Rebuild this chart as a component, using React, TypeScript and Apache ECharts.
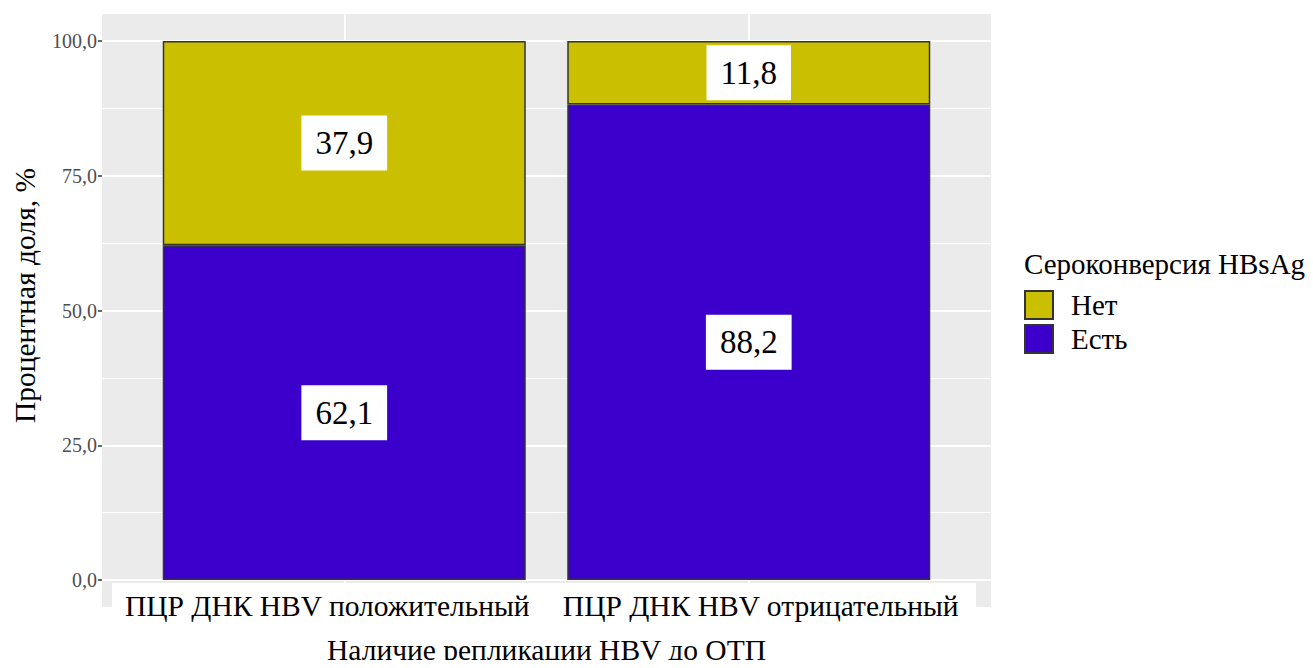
import React, { useEffect, useRef } from "react";
import * as echarts from "echarts";

const categories = ["ПЦР ДНК HBV положительный", "ПЦР ДНК HBV отрицательный"];
const categoryPositions = [1, 2];
const seriesNames = ["Есть", "Нет"];
const valuesYes = [62.1, 88.2];
const valuesNo = [37.9, 11.8];
const yTicks = [0, 25, 50, 75, 100];
const yMinorTicks = [12.5, 37.5, 62.5, 87.5];
const legendTitle = "Сероконверсия HBsAg";
const xTitle = "Наличие репликации HBV до ОТП";
const yTitle = "Процентная доля, %";

const FONT = "'Liberation Serif', 'Times New Roman', serif";
const BIG = 29.5;
const fmt = (v: number) => v.toFixed(1).replace(".", ",");

export default function App() {
  const ref = useRef<HTMLDivElement>(null);
  useEffect(() => {
    if (!ref.current) return;
    const chart = echarts.init(ref.current, null, { renderer: "svg" });
    const labelStyle = {
      show: true,
      position: "inside",
      formatter: (p: any) => fmt(p.value),
      color: "#000",
      fontSize: 33,
      fontFamily: FONT,
      backgroundColor: "#fff",
      padding: [11, 14],
    };
    chart.setOption({
      animation: false,
      textStyle: { fontFamily: FONT },
      grid: [
        // bars
        {
          left: 142,
          right: 362,
          top: 14,
          bottom: 61,
          show: false,
          containLabel: false,
          outerBoundsMode: "none",
        },
        // panel
        {
          left: 102,
          right: 322,
          top: 14,
          bottom: 61,
          show: true,
          backgroundColor: "#EBEBEB",
          borderWidth: 0,
          containLabel: false,
          outerBoundsMode: "none",
        },
      ],
      xAxis: [
        {
          gridIndex: 0,
          type: "category",
          data: categories,
          position: "bottom",
          z: 3,
          axisLine: { show: false },
          axisTick: { show: false },
          splitLine: { show: false },
          axisLabel: {
            interval: 0,
            margin: -16,
            formatter: (v: string) =>
              v === categories[0] ? `{a|${v}}` : `{b|${v}}`,
            rich: {
              a: {
                fontSize: BIG,
                fontFamily: FONT,
                color: "#000",
                lineHeight: 30,
                padding: [0, 34, 0, 0],
              },
              b: {
                fontSize: BIG,
                fontFamily: FONT,
                color: "#000",
                lineHeight: 30,
                padding: [0, 0, 0, 24],
              },
            },
          },
          name: xTitle,
          nameLocation: "middle",
          nameGap: 28,
          nameMoveOverlap: false,
          nameTextStyle: { fontSize: BIG, fontFamily: FONT, color: "#000" },
        },
        {
          // vertical grid lines of the panel
          gridIndex: 1,
          type: "value",
          position: "bottom",
          min: 0.4,
          max: 2.6,
          z: 0,
          axisLine: { show: false },
          axisTick: { show: false, customValues: categoryPositions },
          axisLabel: { show: false, customValues: categoryPositions },
          splitLine: { show: true, lineStyle: { color: "#fff", width: 2 } },
        },
      ],
      yAxis: [
        {
          gridIndex: 0,
          type: "value",
          min: -5,
          max: 105,
          show: false,
        },
        {
          gridIndex: 1,
          type: "value",
          min: -5,
          max: 105,
          axisLine: { show: false },
          axisTick: {
            show: true,
            customValues: yTicks,
            length: 4,
            lineStyle: { color: "#333", width: 1.5 },
          },
          axisLabel: {
            customValues: yTicks,
            showMinLabel: true,
            showMaxLabel: true,
            formatter: (v: number) => fmt(v),
            color: "#4D4D4D",
            fontSize: 20,
            fontFamily: FONT,
            margin: 5,
          },
          splitLine: { show: true, lineStyle: { color: "#fff", width: 2 } },
          name: yTitle,
          nameLocation: "middle",
          nameGap: 62,
          nameMoveOverlap: false,
          nameTextStyle: {
            fontSize: BIG,
            fontFamily: FONT,
            color: "#000",
            padding: [0, 0, 0, 30],
          },
        },
        {
          gridIndex: 1,
          type: "value",
          min: -5,
          max: 105,
          position: "left",
          axisLine: { show: false },
          axisTick: { show: false, customValues: yMinorTicks },
          axisLabel: { show: false, customValues: yMinorTicks },
          splitLine: { show: true, lineStyle: { color: "#fff", width: 1 } },
        },
      ],
      legend: {
        orient: "vertical",
        left: 1024,
        top: 290,
        padding: 0,
        itemWidth: 28,
        itemHeight: 28,
        itemGap: 4,
        icon: "rect",
        data: ["Нет", "Есть"],
        textStyle: {
          fontSize: 29,
          fontFamily: FONT,
          color: "#000",
          padding: [0, 0, 0, 13],
        },
      },
      graphic: [
        {
          type: "rect",
          z: 1,
          shape: { x: 112, y: 583, width: 864, height: 24 },
          style: { fill: "#fff" },
        },
        {
          type: "text",
          left: 1024,
          top: 249,
          style: {
            text: legendTitle,
            fontSize: 29,
            fontFamily: FONT,
            fill: "#000",
          },
        },
      ],
      series: [
        {
          name: seriesNames[0],
          type: "bar",
          xAxisIndex: 0,
          yAxisIndex: 0,
          stack: "total",
          barWidth: 363,
          data: valuesYes,
          itemStyle: { color: "#3B00CB", borderColor: "#333", borderWidth: 1.5 },
          label: labelStyle,
        },
        {
          name: seriesNames[1],
          type: "bar",
          xAxisIndex: 0,
          yAxisIndex: 0,
          stack: "total",
          barWidth: 363,
          data: valuesNo,
          itemStyle: { color: "#CABF00", borderColor: "#333", borderWidth: 1.5 },
          label: labelStyle,
        },
      ],
    });
    return () => chart.dispose();
  }, []);
  return <div ref={ref} style={{ width: 1313, height: 668, margin: -8 }} />;
}
